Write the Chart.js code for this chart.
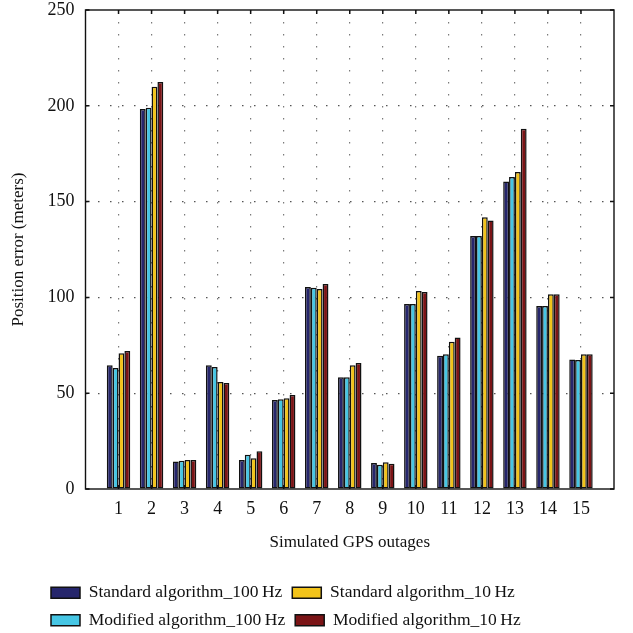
<!DOCTYPE html>
<html>
<head>
<meta charset="utf-8">
<script src="https://cdn.jsdelivr.net/npm/chart.js@4.4.1/dist/chart.umd.min.js"></script>
<style>
html,body{margin:0;padding:0;background:#fff;}
#wrap{width:633px;height:633px;}
</style>
</head>
<body>
<div id="wrap"><canvas id="c" width="633" height="633"></canvas></div>
<script>
// ---- data ----
const outages = [1, 2, 3, 4, 5, 6, 7, 8, 9, 10, 11, 12, 13, 14, 15];
const seriesNames = [
  "Standard algorithm_100\u2009Hz",
  "Modified algorithm_100\u2009Hz",
  "Standard algorithm_10\u2009Hz",
  "Modified algorithm_10\u2009Hz"
];
const std100 = [64.6, 198.3, 14.3, 64.6, 15.1, 46.5, 105.4, 58.3, 13.6, 96.6, 69.6, 132.0, 160.5, 95.5, 67.6];
const mod100 = [63.2, 199.0, 14.8, 63.7, 17.9, 46.8, 105.1, 58.3, 12.7, 96.6, 70.3, 132.0, 162.8, 95.5, 67.3];
const std10  = [70.8, 210.0, 15.1, 55.8, 16.0, 47.3, 104.4, 64.6, 13.9, 103.3, 76.9, 141.8, 165.4, 101.6, 70.3];
const mod10  = [72.0, 212.4, 15.1, 55.3, 19.7, 49.1, 107.0, 65.8, 13.2, 102.8, 79.1, 140.2, 188.0, 101.6, 70.3];
const yTicks = [0, 50, 100, 150, 200, 250];
const xTitle = "Simulated GPS outages";
const yTitle = "Position error (meters)";

// ---- style ----
const colors = ["#26266c", "#46c6e4", "#f2c31a", "#7b1416"];
const legendOrder = [0, 2, 1, 3];
const FONT = "'Liberation Serif', 'Times New Roman', serif";
const LEGEND_X = 51, LEGEND_Y = 574;

const seriesValues = [std100, mod100, std10, mod10];
const datasets = seriesValues.map((vals, i) => ({
  label: seriesNames[i],
  data: outages.map((o, j) => ({ x: o, y: vals[j] })),
  backgroundColor: colors[i],
  borderColor: "#111",
  borderWidth: 1.5,
  borderSkipped: false,
  categoryPercentage: 0.71,
  barPercentage: 1.0
}));

const framePlugin = {
  id: "frame",
  beforeDatasetsDraw(chart) {
    const { ctx, chartArea: a, scales: { x, y } } = chart;
    ctx.save();
    ctx.strokeStyle = "#111";
    ctx.lineWidth = 1.5;
    ctx.beginPath();
    yTicks.forEach(v => {
      const py = y.getPixelForValue(v);
      ctx.moveTo(a.left, py); ctx.lineTo(a.left + 4, py);
      ctx.moveTo(a.right, py); ctx.lineTo(a.right - 4, py);
    });
    outages.forEach(v => {
      const px = x.getPixelForValue(v);
      ctx.moveTo(px, a.top); ctx.lineTo(px, a.top + 4);
      ctx.moveTo(px, a.bottom); ctx.lineTo(px, a.bottom - 4);
    });
    ctx.stroke();
    ctx.restore();
  },
  afterDatasetsDraw(chart) {
    const { ctx, chartArea: a } = chart;
    ctx.save();
    ctx.strokeStyle = "#111";
    ctx.lineWidth = 1.4;
    ctx.strokeRect(a.left, a.top, a.right - a.left, a.bottom - a.top);
    ctx.restore();
  },
  afterLayout(chart) {
    const lg = chart.legend;
    if (!lg) return;
    const p = lg.options.labels.padding;
    const dx = LEGEND_X - (lg.left + p);
    lg.left += dx; lg.right += dx;
    const dy = LEGEND_Y - lg.top;
    lg.top += dy; lg.bottom += dy;
  }
};

new Chart(document.getElementById("c"), {
  type: "bar",
  data: { datasets },
  options: {
    responsive: false,
    animation: false,
    layout: { padding: { left: 0, right: 19, top: 10, bottom: 0 } },
    plugins: {
      tooltip: { enabled: false },
      legend: {
        position: "bottom",
        align: "start",
        labels: {
          boxWidth: 29,
          boxHeight: 11,
          padding: 10,
          color: "#111",
          font: { family: FONT, size: 17.5 },
          sort: (a, b) => legendOrder.indexOf(a.datasetIndex) - legendOrder.indexOf(b.datasetIndex)
        }
      }
    },
    scales: {
      x: {
        type: "linear",
        offset: false,
        min: 0,
        max: 16,
        afterBuildTicks: s => { s.ticks = [0].concat(outages, [16]).map(v => ({ value: v })); },
        ticks: {
          callback: v => (outages.includes(v) ? String(v) : ""),
          color: "#111",
          font: { family: FONT, size: 18 },
          padding: 9,
          maxRotation: 0,
          autoSkip: false
        },
        grid: {
          offset: false,
          drawTicks: false,
          color: c => (c.tick && outages.includes(c.tick.value) ? "#7a7a7a" : "rgba(0,0,0,0)"),
          lineWidth: 1.2
        },
        border: { display: false, dash: [1.5, 10.5] },
        title: {
          display: true,
          text: xTitle,
          color: "#111",
          font: { family: FONT, size: 17 },
          padding: { top: 15, bottom: 15 }
        },
        afterFit: s => { s.height = 79; s.paddingLeft = 0; s.paddingRight = 0; }
      },
      y: {
        min: 0,
        max: 250,
        afterBuildTicks: s => { s.ticks = yTicks.map(v => ({ value: v })); },
        ticks: {
          color: "#111",
          font: { family: FONT, size: 18 },
          padding: 11
        },
        grid: {
          drawTicks: false,
          color: c => (c.tick && c.tick.value > 0 && c.tick.value < 250 ? "#555" : "rgba(0,0,0,0)"),
          lineWidth: 1.2
        },
        border: { display: false, dash: [1.5, 10.5] },
        title: {
          display: true,
          text: yTitle,
          color: "#111",
          font: { family: FONT, size: 17 },
          padding: { top: 8, bottom: 0 }
        },
        afterFit: s => { s.width = 85.5; s.paddingTop = 0; s.paddingBottom = 0; }
      }
    }
  },
  plugins: [framePlugin]
});
</script>
</body>
</html>
